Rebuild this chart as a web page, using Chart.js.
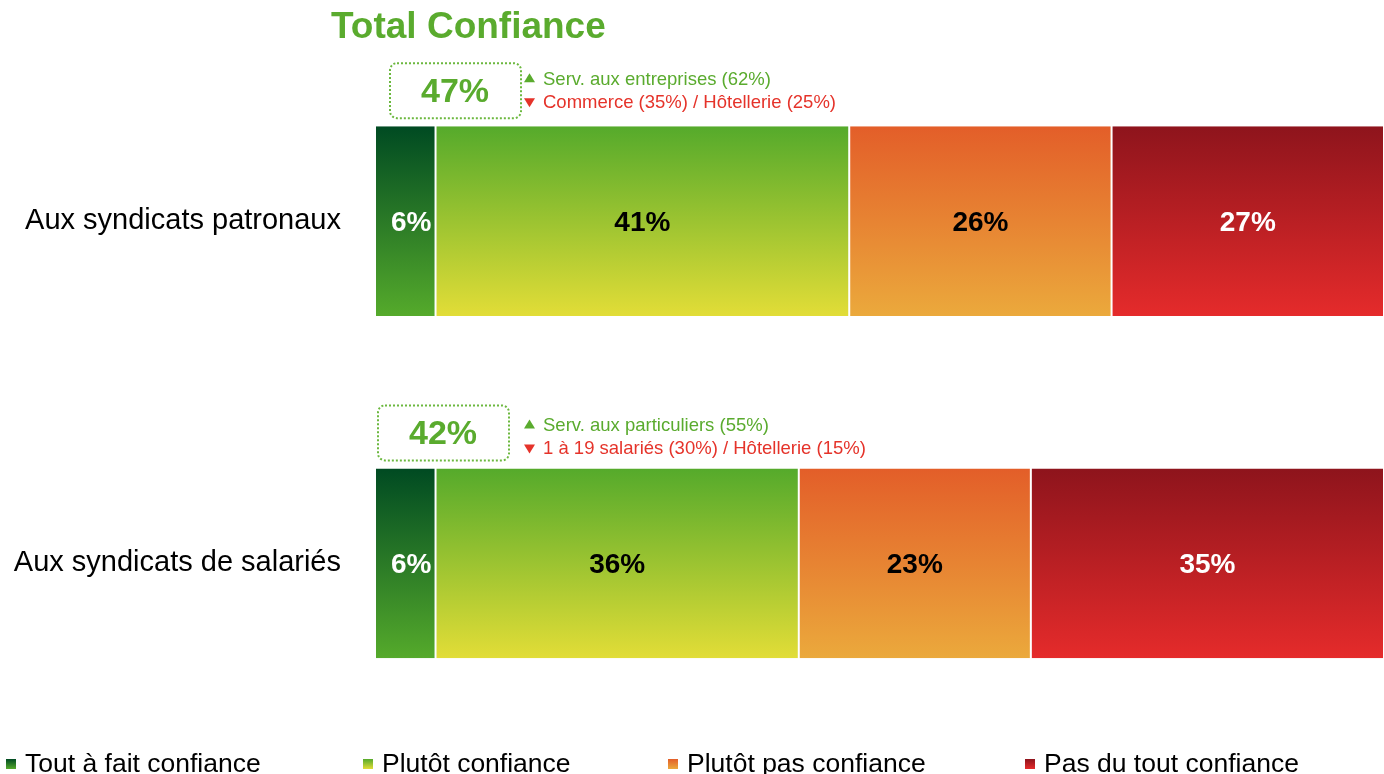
<!DOCTYPE html>
<html>
<head>
<meta charset="utf-8">
<script src="https://cdn.jsdelivr.net/npm/chart.js@4"></script>
<style>
  body { margin: 0; background: #fff; }
  #wrap { width: 1384px; height: 774px; position: relative; }
</style>
</head>
<body>
<div id="wrap"><canvas id="myChart"></canvas></div>
<script>
const categories = ["Aux syndicats patronaux", "Aux syndicats de salariés"];
const seriesNames = ["Tout à fait confiance", "Plutôt confiance", "Plutôt pas confiance", "Pas du tout confiance"];
const toutAFait = [6, 6];
const plutot = [41, 36];
const plutotPas = [26, 23];
const pasDuTout = [27, 35];
const hausses = ["Serv. aux entreprises (62%)", "Serv. aux particuliers (55%)"];
const baisses = ["Commerce (35%) / Hôtellerie (25%)", "1 à 19 salariés (30%) / Hôtellerie (15%)"];

// top / bottom colours of each series gradient
const colors = [
  ["#004a22", "#55aa2b"],
  ["#55aa2b", "#e2dd37"],
  ["#e35e29", "#eba93c"],
  ["#8e141c", "#e52b2b"],
];
const labelColors = ["#fff", "#000", "#000", "#fff"];
const barPct = 0.555;
const FONT = "'Liberation Sans', Arial, sans-serif";
const GREEN = "#5aab2e";
const RED = "#e5332a";

function gradFill(i) {
  return function (context) {
    const chart = context.chart;
    const y = chart.scales.y;
    if (!chart.chartArea || !y || context.type !== "data") return colors[i][1];
    const band = y.height / categories.length;
    const c = y.getPixelForValue(context.dataIndex);
    const half = (band * barPct) / 2;
    if (!isFinite(c)) return colors[i][1];
    const g = chart.ctx.createLinearGradient(0, c - half, 0, c + half);
    g.addColorStop(0, colors[i][0]);
    g.addColorStop(1, colors[i][1]);
    return g;
  };
}

const values = [toutAFait, plutot, plutotPas, pasDuTout];

const data = {
  labels: categories,
  datasets: values.map((v, i) => ({
    label: seriesNames[i],
    data: v,
    backgroundColor: gradFill(i),
    borderColor: "#ffffff",
    borderWidth: { top: 0, bottom: 0, left: 1, right: 1 },
    borderSkipped: false,
    categoryPercentage: 1,
    barPercentage: barPct,
  })),
};

// value labels inside the segments
const segmentLabels = {
  id: "segmentLabels",
  afterDatasetsDraw(chart) {
    const ctx = chart.ctx;
    ctx.save();
    ctx.font = "bold 28px " + FONT;
    ctx.textAlign = "center";
    ctx.textBaseline = "middle";
    chart.data.datasets.forEach((ds, i) => {
      chart.getDatasetMeta(i).data.forEach((el, j) => {
        ctx.fillStyle = labelColors[i];
        ctx.fillText(ds.data[j] + "%", (el.x + el.base) / 2 + (i === 0 ? 6 : 0), el.y + 2);
      });
    });
    ctx.restore();
  },
};

const boxLeft = [390, 378];
const noteShift = [0, 4];
const legendX = [6, 363, 668, 1025];

// title, total boxes and legend
const extras = {
  id: "extras",
  afterDraw(chart) {
    const ctx = chart.ctx;
    ctx.save();
    ctx.fillStyle = GREEN;
    ctx.font = "bold 37px " + FONT;
    ctx.textAlign = "left";
    ctx.textBaseline = "alphabetic";
    ctx.fillText("Total Confiance", 331, 38);

    const meta = chart.getDatasetMeta(0);
    categories.forEach((c, r) => {
      const el = meta.data[r];
      const barTop = el.y - el.height / 2;
      const top = barTop - 63;
      const left = boxLeft[r];
      ctx.setLineDash([2, 2]);
      ctx.lineWidth = 2;
      ctx.strokeStyle = "#6cb83f";
      ctx.beginPath();
      ctx.roundRect(left, top, 131, 55, 7);
      ctx.stroke();
      ctx.setLineDash([]);

      const total = toutAFait[r] + plutot[r];
      ctx.fillStyle = GREEN;
      ctx.font = "bold 34px " + FONT;
      ctx.textAlign = "center";
      ctx.textBaseline = "middle";
      ctx.fillText(total + "%", left + 65, top + 29);

      ctx.font = "18.5px " + FONT;
      ctx.textAlign = "left";
      const y1 = barTop - 47 + noteShift[r];
      const y2 = barTop - 24 + noteShift[r];
      ctx.beginPath();
      ctx.moveTo(524, y1 + 3);
      ctx.lineTo(535, y1 + 3);
      ctx.lineTo(529.5, y1 - 6);
      ctx.closePath();
      ctx.fill();
      ctx.fillText(hausses[r], 543, y1 + 1);
      ctx.fillStyle = RED;
      ctx.beginPath();
      ctx.moveTo(524, y2 - 4);
      ctx.lineTo(535, y2 - 4);
      ctx.lineTo(529.5, y2 + 5);
      ctx.closePath();
      ctx.fill();
      ctx.fillText(baisses[r], 543, y2 + 1);
    });

    // legend along the bottom
    seriesNames.forEach((name, i) => {
      const x = legendX[i];
      const g = ctx.createLinearGradient(0, 759, 0, 769);
      g.addColorStop(0, colors[i][0]);
      g.addColorStop(1, colors[i][1]);
      ctx.fillStyle = g;
      ctx.fillRect(x, 759, 10, 10);
      ctx.fillStyle = "#000";
      ctx.font = "26.5px " + FONT;
      ctx.textAlign = "left";
      ctx.textBaseline = "alphabetic";
      ctx.fillText(name, x + 19, 772);
    });
    ctx.restore();
  },
};

const config = {
  type: "bar",
  data,
  options: {
    indexAxis: "y",
    responsive: true,
    maintainAspectRatio: false,
    animation: false,
    layout: { padding: { top: 50, bottom: 39.5, left: 0, right: 0 } },
    plugins: {
      legend: { display: false },
      tooltip: { enabled: false },
    },
    scales: {
      x: { stacked: true, min: 0, max: 100, display: false },
      y: {
        stacked: true,
        grid: { display: false },
        border: { display: false },
        afterFit(scale) {
          scale.width = 375;
          scale.paddingTop = 0;
          scale.paddingBottom = 0;
        },
        ticks: {
          padding: 26,
          color: "#000",
          font: { size: 29, family: FONT },
        },
      },
    },
  },
  plugins: [segmentLabels, extras],
};

const myChart = new Chart(document.getElementById("myChart"), config);
</script>
</body>
</html>
